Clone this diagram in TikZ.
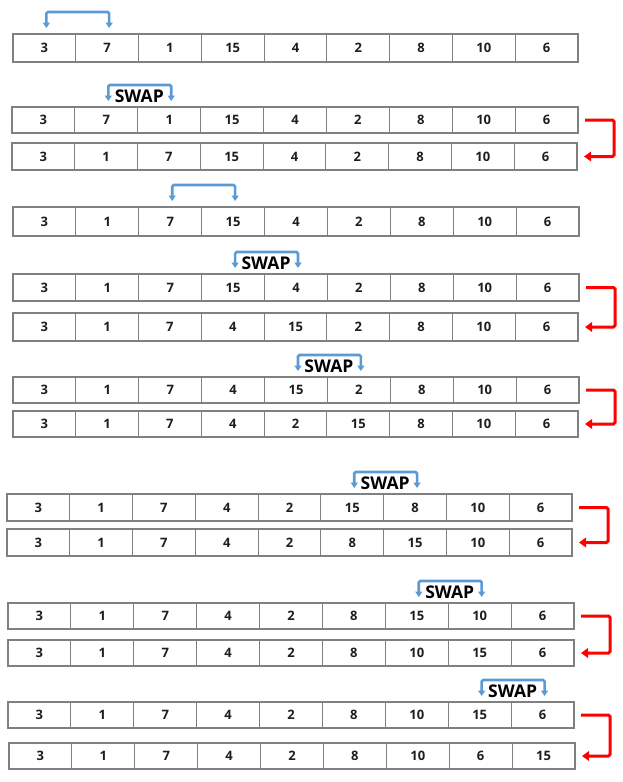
\documentclass[tikz,border=0pt]{standalone}
\usepackage{fontspec}
\setmainfont{Open Sans}
\usetikzlibrary{arrows.meta,calc}
\definecolor{cellgray}{RGB}{128,128,128}
\definecolor{swapblue}{RGB}{91,155,213}
\definecolor{txt}{RGB}{30,30,30}
\tikzset{
 cell/.style={draw=cellgray, line width=1.1pt, outer sep=0pt, inner sep=0pt,
   font=\fontsize{13}{14}\selectfont\bfseries, text=txt, anchor=north west,
   text height=9.3pt, text depth=0pt},
 swaparr/.style={draw=swapblue, line width=2.6pt, rounded corners=1.5pt,
   {Triangle[length=5.5pt,width=7pt]}-{Triangle[length=5.5pt,width=7pt]}},
 swaplbl/.style={font=\fontsize{17.5}{19}\selectfont\bfseries, text=black, inner sep=0pt},
 movearr/.style={draw=red, line width=3pt, rounded corners=1.5pt,
   -{Triangle[length=7pt,width=9.5pt]}},
}
\newcommand{\cellrow}[6]{%
  \pgfmathsetmacro{\cw}{(#5-#4)/9}%
  \pgfmathsetmacro{\ch}{#3-#2}%
  \foreach \v [count=\i] in {#6}{%
    \node[cell, minimum width={\cw*1pt}, minimum height={\ch*1pt}] (#1-\i) at ({#4+(\i-1)*\cw},#2) {\v};
  }%
}
\newcommand{\swapbracket}[3]{% row, cell i, cell j
  \draw[swaparr] ([xshift=2pt,yshift=6pt]#1-#2.north) -- ++(0,-16) -| ([xshift=2pt,yshift=6pt]#1-#3.north);
}
\newcommand{\swaplabel}[3]{%
  \node[swaplbl] (s#1) at ($(#1-#2.north)!0.5!(#1-#3.north)+(1.5,-11)$) {SWAP};
}
\newcommand{\movedown}[2]{%
  \draw[movearr] ([xshift=7pt]#1-9.east) -- ++(29,0) |- ([xshift=7pt]#2-9.east);
}
\begin{document}
\begin{tikzpicture}[x=1pt,y=-1pt]
\useasboundingbox[fill=white] (0,0) rectangle (623,782);
\cellrow{A}{34}{62}{13}{578}{3,7,1,15,4,2,8,10,6}
\cellrow{B}{107}{133}{12}{578}{3,7,1,15,4,2,8,10,6}
\cellrow{C}{143}{170}{12}{577}{3,1,7,15,4,2,8,10,6}
\cellrow{D}{207}{236}{13}{579}{3,1,7,15,4,2,8,10,6}
\cellrow{E}{274}{301}{13}{579}{3,1,7,15,4,2,8,10,6}
\cellrow{F}{313}{341}{13}{578}{3,1,7,4,15,2,8,10,6}
\cellrow{G}{377}{403}{13}{579}{3,1,7,4,15,2,8,10,6}
\cellrow{H}{411}{437}{13}{578}{3,1,7,4,2,15,8,10,6}
\cellrow{I}{494}{521}{7}{572}{3,1,7,4,2,15,8,10,6}
\cellrow{J}{529}{556}{7}{572}{3,1,7,4,2,8,15,10,6}
\cellrow{K}{603}{629}{8}{574}{3,1,7,4,2,8,15,10,6}
\cellrow{L}{640}{666}{8}{574}{3,1,7,4,2,8,10,15,6}
\cellrow{M}{702}{728}{8}{574}{3,1,7,4,2,8,10,15,6}
\cellrow{N}{743}{769}{9}{575}{3,1,7,4,2,8,10,6,15}
% blue brackets
\swapbracket{A}{1}{2}
\swapbracket{B}{2}{3}\swaplabel{B}{2}{3}
\swapbracket{D}{3}{4}
\swapbracket{E}{4}{5}\swaplabel{E}{4}{5}
\swapbracket{G}{5}{6}\swaplabel{G}{5}{6}
\swapbracket{I}{6}{7}\swaplabel{I}{6}{7}
\swapbracket{K}{7}{8}\swaplabel{K}{7}{8}
\swapbracket{M}{8}{9}\swaplabel{M}{8}{9}
% red arrows
\movedown{B}{C}
\movedown{E}{F}
\movedown{G}{H}
\movedown{I}{J}
\movedown{K}{L}
\movedown{M}{N}
\end{tikzpicture}
\end{document}
